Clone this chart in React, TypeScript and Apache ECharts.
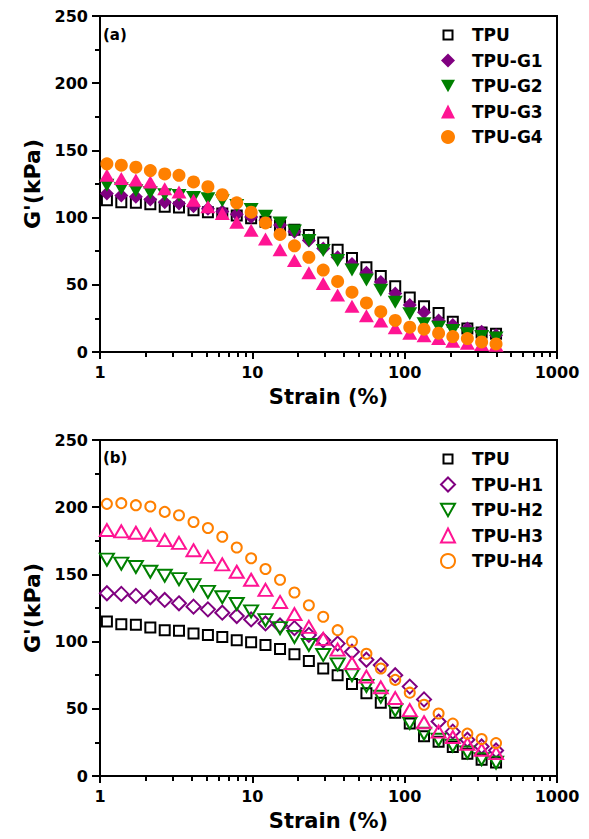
import React, { useEffect, useRef } from "react";
import * as echarts from "echarts";

// Strain (%) values shared by all series
const strain = [1.11, 1.38, 1.72, 2.14, 2.66, 3.3, 4.11, 5.11, 6.35, 7.9, 9.82, 12.2, 15.2, 18.9, 23.5, 29.2, 36.3, 45.1, 56.1, 69.7, 86.7, 108, 134, 167, 207, 258, 320, 398];

// Panel (a) G' (kPa)
const tpuA = [113, 111.5, 111, 110, 108, 107.5, 105.5, 104, 103, 101.5, 99.5, 97, 94, 91, 87, 81.5, 76, 70, 63, 56.5, 49, 40.5, 34, 29, 22.5, 17.5, 14.5, 13.5];
const g1 = [118, 116.5, 115.5, 113.5, 111.5, 110.5, 108.5, 106.5, 104.5, 102.5, 100.5, 98, 94.5, 89.5, 83, 77, 70.5, 65.5, 59, 52, 43.5, 35, 29.5, 23.5, 20, 17.5, 15, 12.5];
const g2 = [124, 121.5, 120, 118.5, 117, 116.5, 115, 114, 112.5, 109, 106, 101, 96, 90, 83, 75.5, 68, 61, 53.5, 46, 37, 28.5, 21, 18.5, 16, 13.5, 11.5, 10.5];
const g3 = [131.5, 129, 128, 126.5, 121.5, 119, 113, 108, 103, 96.5, 90.5, 84, 76, 68, 59, 51, 42.5, 34, 27, 23, 18, 14, 12, 10, 8, 6.5, 5.5, 5];
const g4 = [140, 139, 137.5, 135, 132.5, 131.5, 126.5, 123, 117, 111, 104, 96, 87.5, 79, 70.5, 61, 52.5, 44.5, 36.5, 30, 23.5, 18.5, 17, 14, 11.5, 10, 7.5, 6];

// Panel (b) G' (kPa)
const tpuB = [115, 113, 112.5, 110.5, 108.5, 108, 106, 105, 103.5, 101, 99.5, 97.5, 94.5, 90.5, 85.5, 80, 75, 68.5, 61.5, 54.5, 47, 39, 29.5, 25.5, 21.5, 16.5, 12, 10];
const h1 = [136, 135.5, 134, 133, 131, 128.5, 126, 124, 121.5, 119, 116.5, 113.5, 112, 110, 105, 101, 98.5, 92.5, 86.5, 82.5, 75, 66.5, 57, 40.5, 33, 27, 22, 19];
const h2 = [161, 158, 155.5, 152, 149, 146.5, 142, 137, 133, 128, 122.5, 116, 110, 103.5, 97.5, 90, 83, 75, 67, 59, 49, 39.5, 31.5, 27, 22.5, 17.5, 12.5, 10];
const h3 = [183, 182, 181, 179.5, 175.5, 173.5, 168, 163, 157.5, 152, 146, 138.5, 129.5, 120.5, 111, 102, 94, 84, 74, 66, 58, 49, 40, 33, 29, 24, 19.5, 17];
const h4 = [202.5, 203, 201.5, 200.5, 196.5, 194, 189, 184.5, 178, 170, 162, 154, 146, 136.5, 127, 118.5, 108.5, 100, 91, 80, 71.5, 62, 53, 46.5, 39, 31.5, 27.5, 24.5];

const namesA = ["TPU", "TPU-G1", "TPU-G2", "TPU-G3", "TPU-G4"];
const namesB = ["TPU", "TPU-H1", "TPU-H2", "TPU-H3", "TPU-H4"];
const xMajorTicks = [1, 10, 100, 1000];
const xMinorTicks = [2, 3, 4, 5, 6, 7, 8, 9, 20, 30, 40, 50, 60, 70, 80, 90, 200, 300, 400, 500, 600, 700, 800, 900];

const BLACK = "#000000";
const PURPLE = "#800080";
const GREEN = "#008000";
const PINK = "#FF1493";
const ORANGE = "#FF8000";
const FONT = "DejaVu Sans";

const DOWN_TRI = "path://M0,0 L10,0 L5,9 Z";
const SMALL_SQUARE = "path://M0,0 M14,14 M2.5,2.5 L11.5,2.5 L11.5,11.5 L2.5,11.5 Z";

export default function App() {
  const ref = useRef<HTMLDivElement>(null);
  useEffect(() => {
    const chart = echarts.init(ref.current!, null, { renderer: "svg" });
    const tops = [16, 440];

    const grid = tops.map((t) => ({
      left: 100,
      top: t,
      width: 457,
      height: 336,
      show: true,
      borderColor: BLACK,
      borderWidth: 2,
    }));

    const mainX = tops.map((_, i) => ({
      type: "log",
      logBase: 10,
      min: 1,
      max: 1000,
      gridIndex: i,
      name: "Strain (%)",
      nameLocation: "middle",
      nameGap: 34,
      nameTextStyle: { fontSize: 21, fontWeight: "bold", color: BLACK, fontFamily: FONT },
      axisLine: { show: true, lineStyle: { color: BLACK, width: 2 } },
      axisTick: {
        show: true,
        inside: false,
        length: 7,
        customValues: xMajorTicks,
        lineStyle: { color: BLACK, width: 2 },
      },
      axisLabel: {
        fontSize: 16,
        fontWeight: "bold",
        color: BLACK,
        fontFamily: FONT,
        margin: 12,
        customValues: xMajorTicks,
        formatter: (v: number) => String(v),
      },
      splitLine: { show: false },
      minorTick: { show: false },
    }));

    // second log axis per grid carrying only the minor ticks
    const minorX = tops.map((_, i) => ({
      type: "log",
      logBase: 10,
      min: 1,
      max: 1000,
      gridIndex: i,
      position: "bottom",
      axisLine: { show: false },
      axisTick: {
        show: true,
        inside: false,
        length: 5,
        customValues: xMinorTicks,
        lineStyle: { color: BLACK, width: 2 },
      },
      axisLabel: { show: false },
      splitLine: { show: false },
    }));

    const yAxis = tops.map((_, i) => ({
      type: "value",
      min: 0,
      max: 250,
      interval: 50,
      gridIndex: i,
      name: "G'(kPa)",
      nameLocation: "middle",
      nameGap: 57,
      nameTextStyle: { fontSize: 22, fontWeight: "bold", color: BLACK, fontFamily: FONT },
      axisLine: { show: true, lineStyle: { color: BLACK, width: 2 } },
      axisTick: { show: true, inside: false, length: 8, lineStyle: { color: BLACK, width: 2 } },
      minorTick: { show: true, splitNumber: 2, length: 5, lineStyle: { color: BLACK, width: 2 } },
      axisLabel: { fontSize: 16, fontWeight: "bold", color: BLACK, fontFamily: FONT, margin: 12 },
      splitLine: { show: false },
      minorSplitLine: { show: false },
    }));

    const scatter = (
      name: string,
      vals: number[],
      idx: number,
      symbol: string,
      size: number | number[],
      color: string,
      hollow: boolean
    ) => ({
      type: "scatter",
      name,
      xAxisIndex: idx,
      yAxisIndex: idx,
      data: strain.map((x, k) => [x, vals[k]]),
      symbol,
      symbolSize: size,
      itemStyle: hollow
        ? { color: "transparent", borderColor: color, borderWidth: 2, opacity: 1 }
        : { color, borderWidth: 0, opacity: 1 },
      emphasis: { disabled: true },
    });

    const series = [
      scatter("TPU", tpuA, 0, "rect", 10, BLACK, true),
      scatter("TPU-G1", g1, 0, "diamond", 14, PURPLE, false),
      scatter("TPU-G2", g2, 0, DOWN_TRI, [15, 13], GREEN, false),
      scatter("TPU-G3", g3, 0, "triangle", [15, 13], PINK, false),
      scatter("TPU-G4", g4, 0, "circle", 13, ORANGE, false),
      scatter("TPU", tpuB, 1, "rect", 10, BLACK, true),
      scatter("TPU-H1", h1, 1, "diamond", 14, PURPLE, true),
      scatter("TPU-H2", h2, 1, DOWN_TRI, [14, 12], GREEN, true),
      scatter("TPU-H3", h3, 1, "triangle", [14, 12], PINK, true),
      scatter("TPU-H4", h4, 1, "circle", 10, ORANGE, true),
    ];

    const legendBase = {
      orient: "vertical",
      left: 435,
      itemWidth: 14,
      itemHeight: 14,
      itemGap: 7.5,
      selectedMode: false,
      textStyle: {
        fontSize: 17,
        fontWeight: "bold",
        color: BLACK,
        fontFamily: FONT,
        lineHeight: 18,
        padding: [0, 0, 0, 12],
      },
    };

    chart.setOption({
      animation: false,
      backgroundColor: "#ffffff",
      grid,
      xAxis: [...mainX, ...minorX],
      yAxis,
      legend: [
        {
          ...legendBase,
          top: 21,
          data: namesA.map((n, k) => (k === 0 ? { name: n, icon: SMALL_SQUARE } : { name: n })),
        },
        {
          ...legendBase,
          top: 445,
          data: namesB.map((n, k) => (k === 0 ? { name: n, icon: SMALL_SQUARE } : { name: n })),
        },
      ],
      graphic: [
        {
          type: "text",
          left: 103,
          top: 27,
          style: { text: "(a)", fontSize: 15, fontWeight: "bold", fill: BLACK, fontFamily: FONT },
        },
        {
          type: "text",
          left: 103,
          top: 450,
          style: { text: "(b)", fontSize: 15, fontWeight: "bold", fill: BLACK, fontFamily: FONT },
        },
      ],
      series,
    });

    return () => chart.dispose();
  }, []);

  return (
    <div
      ref={ref}
      style={{ position: "absolute", left: 0, top: 0, width: 589, height: 839, background: "#fff" }}
    />
  );
}
